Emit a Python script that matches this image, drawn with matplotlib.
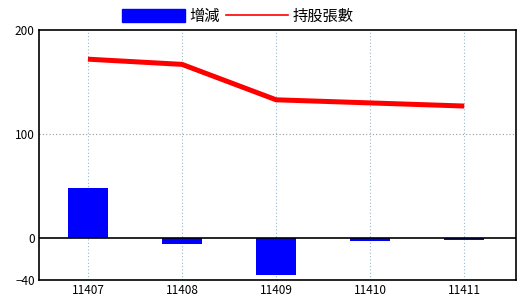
import matplotlib
matplotlib.use('Agg')
import matplotlib.pyplot as plt
from matplotlib.patches import Patch
from matplotlib.lines import Line2D

plt.rcParams['font.family'] = ['Noto Sans CJK TC', 'DejaVu Sans']

months = ['11407', '11408', '11409', '11410', '11411']
change = [48, -5, -35, -3, -2]
shares = [172, 167, 133, 130, 127]
yticks = [200, 100, 0, -40]

fig = plt.figure(figsize=(5.2, 3.0), dpi=100)
ax = fig.add_axes([0.075, 0.0667, 0.9173, 0.8333])

x = range(len(months))
ax.bar(x, change, width=0.425, color='#0000ff', zorder=2)
ax.plot(x, shares, color='#ff0000', lw=3.6, zorder=3, solid_capstyle='butt')
ax.axhline(0, color='black', lw=1.2, zorder=2)

ax.set_xlim(-0.52, 4.55)
ax.set_ylim(-40, 200)
ax.set_yticks(yticks)
ax.set_xticks(list(x))
ax.set_xticklabels(months)
ax.tick_params(length=0, labelsize=8.5, pad=3)

for i in x:
    ax.axvline(i, color='#9ab8cc', lw=0.8, ls=(0, (1, 2)), zorder=1)
ax.axhline(100, color='#999999', lw=0.8, ls=(0, (1, 2)), zorder=1)

for s in ax.spines.values():
    s.set_linewidth(1.2)

handles = [Patch(color='#0000ff'), Line2D([0], [0], color='#ff0000', lw=1.2)]
fig.legend(handles, ['增減', '持股張數'], loc='upper left',
           bbox_to_anchor=(0.208, 1.02), ncol=2, frameon=False,
           fontsize=11, handlelength=4.1, handleheight=1.0,
           handletextpad=0.3, columnspacing=0.4)

fig.savefig('out.png', dpi=100)
